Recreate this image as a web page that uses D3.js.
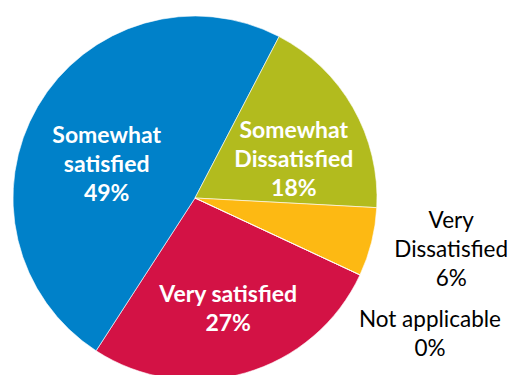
<!DOCTYPE html>
<html>
<head>
<meta charset="utf-8">
<script src="https://cdn.jsdelivr.net/npm/d3@7"></script>
<style>
  html, body { margin: 0; padding: 0; background: #fff; }
  svg { display: block; }
</style>
</head>
<body>
<svg id="chart"></svg>
<script>
// satisfaction survey pie
const categories = ['Very satisfied', 'Somewhat satisfied', 'Somewhat Dissatisfied', 'Very Dissatisfied', 'Not applicable'];
const values = [27.2, 48.5, 18.2, 6.1, 0];
const labelLines = [
  ['Very satisfied'],
  ['Somewhat', 'satisfied'],
  ['Somewhat', 'Dissatisfied'],
  ['Very', 'Dissatisfied'],
  ['Not applicable']
];
const colors = ['#d31245', '#0081c9', '#b2bb1e', '#fdb913', '#7f7f7f'];

const width = 510, height = 375;
const cx = 195, cy = 198, radius = 182;

const svg = d3.select('#chart')
  .attr('width', width)
  .attr('height', height);

const g = svg.append('g').attr('transform', `translate(${cx},${cy})`);

const deg = Math.PI / 180;
const pie = d3.pie()
  .sort(null)
  .value(d => d)
  .startAngle(115 * deg)
  .endAngle(475 * deg);

const arcs = pie(values);

const arc = d3.arc().innerRadius(0).outerRadius(radius);

g.selectAll('path.slice')
  .data(arcs)
  .enter()
  .append('path')
  .attr('class', 'slice')
  .attr('d', arc)
  .attr('fill', (d, i) => colors[i])
  .attr('stroke', '#fff')
  .attr('stroke-width', 0.6);

// labels: inside ones white bold, outside ones black
const inArc = d3.arc().innerRadius(radius * 0.6).outerRadius(radius * 0.6);
const outArc = d3.arc().innerRadius(radius * 1.4).outerRadius(radius * 1.4);
const outside = [false, false, false, true, true];
const nudge = [[3, 6], [6, 21], [4, 15], [9, -11], [4, 28]];
const lineH = 29;

const labels = g.selectAll('text.lbl')
  .data(arcs)
  .enter()
  .append('text')
  .attr('class', 'lbl')
  .attr('text-anchor', 'middle')
  .style('font-family', 'Lato, "Open Sans", sans-serif')
  .style('font-size', (d, i) => outside[i] ? '22.5px' : '23px')
  .style('font-weight', (d, i) => outside[i] ? 400 : 700)
  .attr('fill', (d, i) => outside[i] ? '#000' : '#fff')
  .each(function(d, i) {
    const c = (outside[i] ? outArc : inArc).centroid(d);
    const x = c[0] + nudge[i][0];
    const lines = labelLines[i].concat([Math.round(d.data) + '%']);
    const y0 = c[1] + nudge[i][1] - (lines.length - 1) * lineH / 2 + 8;
    const t = d3.select(this);
    lines.forEach((s, k) => {
      t.append('tspan')
        .attr('x', x)
        .attr('y', y0 + k * lineH)
        .text(s);
    });
  });
</script>
</body>
</html>
